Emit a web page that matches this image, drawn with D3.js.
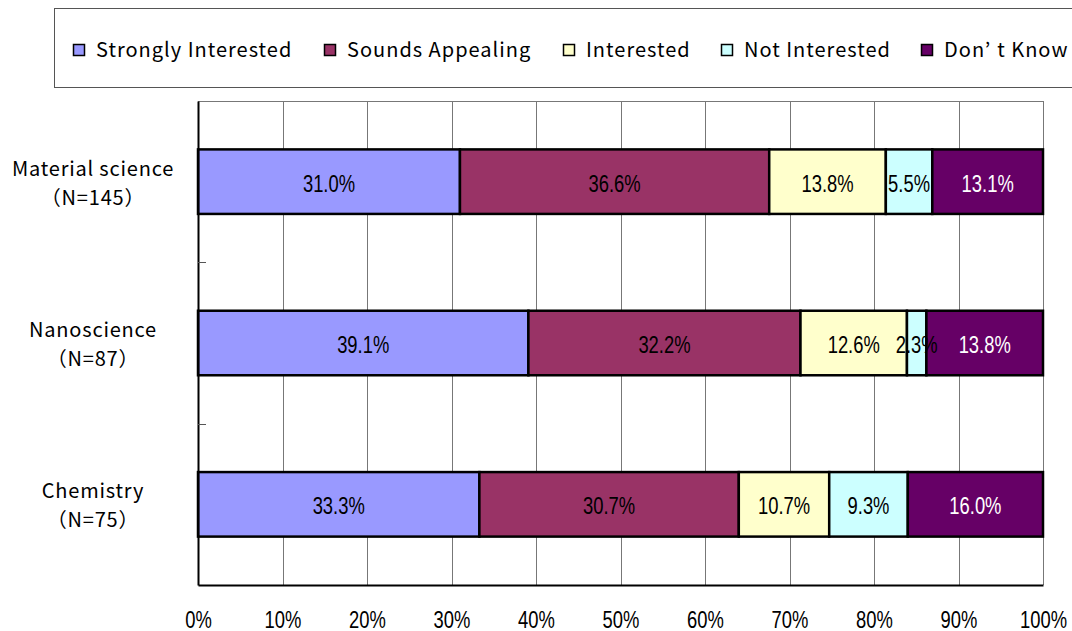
<!DOCTYPE html>
<html>
<head>
<meta charset="utf-8">
<script src="https://d3js.org/d3.v7.min.js"></script>
<style>
  body { margin: 0; background: #fff; }
</style>
</head>
<body>
<div id="chart"></div>
<script>
var categories = ["Material science", "Nanoscience", "Chemistry"];
var sampleSizes = ["(N=145)", "(N=87)", "(N=75)"];
var seriesNames = ["Strongly Interested", "Sounds Appealing", "Interested", "Not Interested", "Don\u2019t Know"];
var seriesColors = ["#9999ff", "#993366", "#ffffcc", "#ccffff", "#660066"];
var labelColors = ["#000", "#000", "#000", "#000", "#fff"];
var stronglyInterested = [31.0, 39.1, 33.3];
var soundsAppealing = [36.6, 32.2, 30.7];
var interested = [13.8, 12.6, 10.7];
var notInterested = [5.5, 2.3, 9.3];
var dontKnow = [13.1, 13.8, 16.0];
var tickValues = [0, 10, 20, 30, 40, 50, 60, 70, 80, 90, 100];

var series = [stronglyInterested, soundsAppealing, interested, notInterested, dontKnow];

var W = 1072, H = 631;
var margin = {top: 101, right: 29, bottom: 46, left: 198};
var width = W - margin.left - margin.right,
    height = H - margin.top - margin.bottom;

var svg = d3.select("#chart").append("svg")
  .attr("width", W).attr("height", H);

var sans = "'Liberation Sans', Arial, sans-serif";
var jfont = "'Noto Sans CJK JP', 'Noto Sans', sans-serif";
var squeeze = 0.8;

// legend box
svg.append("rect")
  .attr("x", 54.5).attr("y", 8.5)
  .attr("width", 1030).attr("height", 79)
  .attr("fill", "#fff").attr("stroke", "#555").attr("stroke-width", 1);

var legendX = [73, 324, 563, 721, 921];
var legend = svg.selectAll(".leg").data(seriesNames).enter().append("g")
  .attr("transform", function(d, i) { return "translate(" + legendX[i] + ",44)"; });
legend.append("rect")
  .attr("x", 0.5).attr("y", 0.5).attr("width", 11).attr("height", 11)
  .attr("fill", function(d, i) { return seriesColors[i]; })
  .attr("stroke", "#000").attr("stroke-width", 1.5);
legend.append("text")
  .attr("x", 23).attr("y", 13)
  .attr("font-family", jfont).attr("font-size", 20)
  .attr("letter-spacing", 1)
  .attr("fill", "#000")
  .each(function(d) {
    var t = d3.select(this);
    var parts = d.split("\u2019");
    if (parts.length > 1) {
      t.append("tspan").text(parts[0] + "\u2019");
      t.append("tspan").attr("dx", 6).text(parts[1]);
    } else {
      t.text(d);
    }
  });

var g = svg.append("g")
  .attr("transform", "translate(" + margin.left + "," + margin.top + ")");

var x = d3.scaleLinear().domain([0, 100]).range([0, width]);
var y = d3.scaleBand().domain(categories).range([0, height]).paddingInner(0.6).paddingOuter(0.3);
var yb = d3.scaleBand().domain(categories).range([0, height]);

// top border
g.append("line").attr("x1", 0).attr("x2", width).attr("y1", 0.5).attr("y2", 0.5)
  .attr("stroke", "#777");

// grid
g.selectAll(".grid").data(tickValues.slice(1)).enter().append("line")
  .attr("x1", function(d) { return Math.round(x(d)) + 0.5; })
  .attr("x2", function(d) { return Math.round(x(d)) + 0.5; })
  .attr("y1", 0).attr("y2", height)
  .attr("stroke", "#777").attr("stroke-width", 1);

// stacked bars
var rows = categories.map(function(c, i) {
  var o = {cat: c};
  seriesNames.forEach(function(s, j) { o[s] = series[j][i]; });
  return o;
});
var stacked = d3.stack().keys(seriesNames)(rows);

var layer = g.selectAll(".layer").data(stacked).enter().append("g");
layer.each(function(s, k) {
  d3.select(this).selectAll("rect").data(s).enter().append("rect")
    .attr("x", function(d) { return x(d[0]); })
    .attr("y", function(d) { return y(d.data.cat); })
    .attr("width", function(d) { return x(d[1]) - x(d[0]); })
    .attr("height", y.bandwidth())
    .attr("fill", seriesColors[k])
    .attr("stroke", "#000").attr("stroke-width", 2.5);
});

// value labels drawn after all bars
var labels = g.append("g");
stacked.forEach(function(s, k) {
  labels.selectAll(".lbl" + k).data(s).enter().append("text")
    .attr("transform", function(d) {
      return "translate(" + x((d[0] + d[1]) / 2) + "," + (y(d.data.cat) + y.bandwidth() / 2 + 10) + ") scale(" + squeeze + ",1)";
    })
    .attr("text-anchor", "middle")
    .attr("font-family", sans).attr("font-size", 23)
    .attr("fill", labelColors[k])
    .text(function(d) { return (d[1] - d[0]).toFixed(1) + "%"; });
});

// axes
var xAxis = g.append("g").attr("transform", "translate(0," + height + ")")
  .call(d3.axisBottom(x).tickValues(tickValues).tickSize(0).tickFormat(function(d) { return d + "%"; }));
xAxis.select(".domain").attr("stroke", "#000").attr("stroke-width", 2);
xAxis.selectAll(".tick text")
  .attr("font-family", sans).attr("font-size", 23).attr("fill", "#000")
  .attr("dy", 0).attr("y", 0)
  .attr("transform", "translate(0,43) scale(" + squeeze + ",1)");

var yAxis = g.append("g")
  .call(d3.axisLeft(yb).tickSize(0).tickFormat(""));
yAxis.select(".domain").attr("stroke", "#000").attr("stroke-width", 2);

// small ticks at band boundaries
g.selectAll(".ytick").data(categories.slice(1)).enter().append("line")
  .attr("x1", 0).attr("x2", 8)
  .attr("y1", function(d) { return Math.round(yb(d)) + 0.5; })
  .attr("y2", function(d) { return Math.round(yb(d)) + 0.5; })
  .attr("stroke", "#555");

// category labels
var cl = g.selectAll(".cat").data(categories).enter().append("text")
  .attr("text-anchor", "middle")
  .attr("font-family", jfont).attr("font-size", 20)
  .attr("letter-spacing", 0.8).attr("fill", "#000");
cl.append("tspan")
  .attr("x", -105)
  .attr("y", function(d) { return yb(d) + yb.bandwidth() / 2 - 6; })
  .text(function(d) { return d; });
cl.append("tspan")
  .attr("x", -105)
  .attr("y", function(d) { return yb(d) + yb.bandwidth() / 2 + 23; })
  .text(function(d, i) { return sampleSizes[i].replace("(", "\uff08").replace(")", "\uff09"); });
</script>
</body>
</html>
